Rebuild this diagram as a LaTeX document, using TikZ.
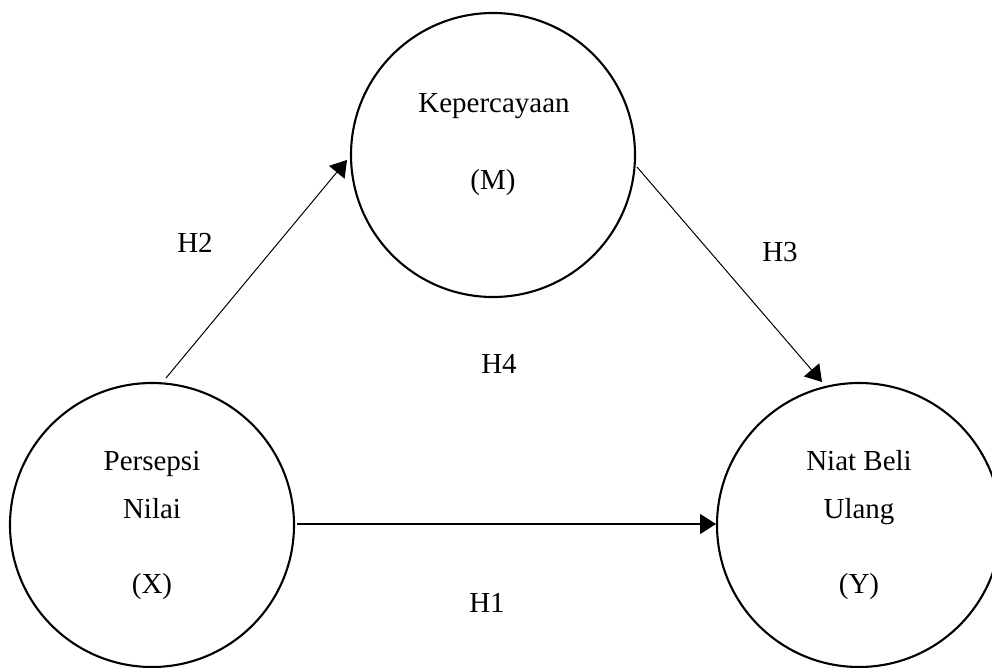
\documentclass[tikz,border=0pt]{standalone}
\usepackage{fontspec}
\setmainfont{Liberation Serif}
\usetikzlibrary{arrows.meta}
\tikzset{
  var/.style={draw, circle, minimum size=284pt, inner sep=0pt, line width=2.1pt},
  lbl/.style={anchor=base, inner sep=0pt, font=\fontsize{29}{35}\selectfont},
  path/.style={line width=1pt, -{Triangle[length=16pt,width=20pt]}},
}
\begin{document}
\begin{tikzpicture}[x=1pt,y=-1pt]
\useasboundingbox (0,0) rectangle (992,668);
% circles
\node[var] (X) at (152,525) {};
\node[var] (M) at (493,155) {};
\node[var] (Y) at (859,525) {};
% texts inside
\node[lbl] (x1) at (152,470) {Persepsi};
\node[lbl] (x2) at (152,518) {Nilai};
\node[lbl] (x3) at (152,593) {(X)};
\node[lbl] (m1) at (494,113) {Kepercayaan};
\node[lbl] (m2) at (493,190) {(M)};
\node[lbl] (y1) at (859,470) {Niat Beli};
\node[lbl] (y2) at (859,518) {Ulang};
\node[lbl] (y3) at (859,593) {(Y)};
% hypothesis labels
\node[lbl] (h1) at (487,612) {H1};
\node[lbl] (h2) at (195,252) {H2};
\node[lbl] (h3) at (780,261) {H3};
\node[lbl] (h4) at (499,373) {H4};
% connector ends
\coordinate (h2s) at (166,378);
\coordinate (h2e) at (347,160);
\coordinate (h3s) at (637,167);
\coordinate (h3e) at (822,382);
\coordinate (h1s) at (297,524);
\coordinate (h1e) at (716,524);
% connectors
\draw[path] (h2s) -- (h2e);
\draw[path] (h3s) -- (h3e);
\draw[path, line width=1.4pt] (h1s) -- (h1e);
\end{tikzpicture}
\end{document}
